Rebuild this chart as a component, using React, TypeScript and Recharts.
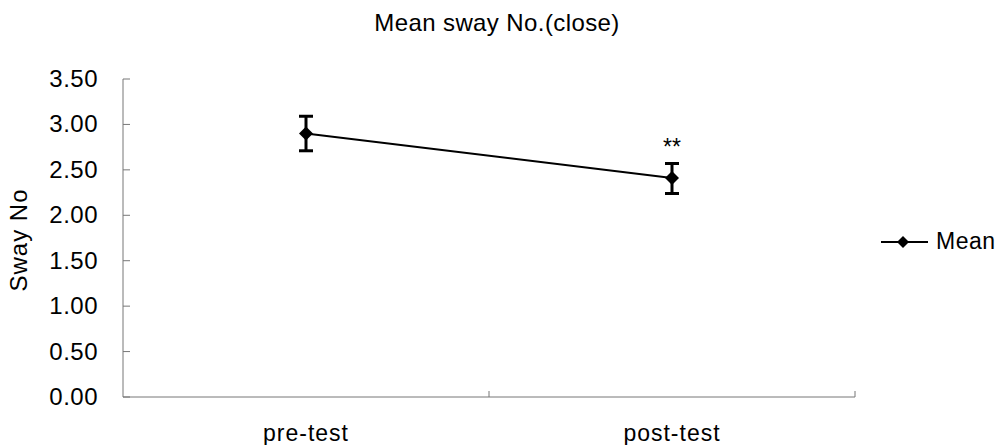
import React from 'react';
import { LineChart, Line, XAxis, YAxis, ErrorBar, LabelList, Legend } from 'recharts';

const FONT = '"Liberation Sans", Arial, Helvetica, sans-serif';

const categories = ['pre-test', 'post-test'];
const meanValues = [2.9, 2.41];
const errorMinus = [0.19, 0.17];
const errorPlus = [0.19, 0.16];
const significance = ['', '**'];
const yTicks = [0, 0.5, 1, 1.5, 2, 2.5, 3, 3.5];
const xTickPositions = [0.5, 1, 1.5, 2];
const titleText = 'Mean sway No.(close)';
const yAxisTitle = 'Sway No';
const seriesName = 'Mean';

const data = categories.map((c, i) => ({
  name: c,
  x: i + 0.5,
  mean: meanValues[i],
  err: [errorMinus[i], errorPlus[i]],
  sig: significance[i],
}));

const XTick = (props: any) => {
  const { x, y, payload } = props;
  const v = payload.value;
  if (Number.isInteger(v)) {
    return <line x1={x} y1={y} x2={x} y2={y - 6} stroke="#777" strokeWidth={1} />;
  }
  return (
    <text
      x={x}
      y={y + 44}
      textAnchor="middle"
      fontSize={23}
      letterSpacing={1}
      fill="#000"
      fontFamily={FONT}
    >
      {categories[Math.floor(v)]}
    </text>
  );
};

const YTick = (props: any) => {
  const { x, y, payload } = props;
  return (
    <g>
      <line x1={x} y1={y} x2={x + 7} y2={y} stroke="#777" strokeWidth={1} />
      <text
        x={x - 25}
        y={y + 8}
        textAnchor="end"
        fontSize={24}
        letterSpacing={0.5}
        fill="#000"
        fontFamily={FONT}
      >
        {Number(payload.value).toFixed(2)}
      </text>
    </g>
  );
};

const YLabel = (props: any) => {
  const { viewBox } = props;
  const cy = viewBox.y + viewBox.height / 2 + 2;
  const cx = 18;
  return (
    <text
      x={cx}
      y={cy}
      transform={`rotate(-90, ${cx}, ${cy})`}
      textAnchor="middle"
      dominantBaseline="central"
      fontSize={24}
      letterSpacing={1}
      fill="#000"
      fontFamily={FONT}
    >
      {yAxisTitle}
    </text>
  );
};

const Diamond = (props: any) => {
  const { cx, cy } = props;
  if (cx == null || cy == null) return null;
  const h = 7;
  return (
    <polygon
      points={`${cx},${cy - h} ${cx + h},${cy} ${cx},${cy + h} ${cx - h},${cy}`}
      fill="#000"
    />
  );
};

const SigLabel = (props: any) => {
  const { x, y, value } = props;
  if (!value) return null;
  return (
    <text x={x} y={y - 23} textAnchor="middle" fontSize={23} fill="#000" fontFamily={FONT}>
      {value}
    </text>
  );
};

const LegendContent = () => (
  <svg width={126} height={30}>
    <line x1={3} y1={14} x2={50} y2={14} stroke="#000" strokeWidth={2} />
    <polygon points="25,8 31,14 25,20 19,14" fill="#000" />
    <text x={58} y={21} fontSize={23} letterSpacing={0.5} fill="#000" fontFamily={FONT}>
      {seriesName}
    </text>
  </svg>
);

export default function App() {
  return (
    <div
      style={{
        position: 'absolute',
        left: 0,
        top: 0,
        width: 1004,
        height: 445,
        background: '#fff',
        fontFamily: FONT,
      }}
    >
      <div
        style={{
          position: 'absolute',
          left: 0,
          top: 11,
          width: 994,
          textAlign: 'center',
          fontSize: 24,
          lineHeight: '24px',
          letterSpacing: '0.4px',
          color: '#000',
        }}
      >
        {titleText}
      </div>
      <LineChart
        width={1004}
        height={445}
        data={data}
        margin={{ top: 79, right: 149, bottom: 0, left: 0 }}
      >
        <XAxis
          dataKey="x"
          type="number"
          domain={[0, 2]}
          ticks={xTickPositions}
          interval={0}
          height={48}
          tickSize={0}
          tickMargin={0}
          tickLine={false}
          axisLine={{ stroke: '#777', strokeWidth: 1 }}
          tick={<XTick />}
        />
        <YAxis
          type="number"
          domain={[0, 3.5]}
          ticks={yTicks}
          interval={0}
          width={123}
          tickSize={0}
          tickMargin={0}
          tickLine={false}
          axisLine={{ stroke: '#777', strokeWidth: 1 }}
          tick={<YTick />}
          label={<YLabel />}
        />
        <Legend
          layout="horizontal"
          align="center"
          verticalAlign="middle"
          content={<LegendContent />}
          wrapperStyle={{ left: 878, top: 228, width: 126, height: 30 }}
        />
        <Line
          dataKey="mean"
          name={seriesName}
          type="linear"
          stroke="#000"
          strokeWidth={2}
          dot={<Diamond />}
          activeDot={false}
          isAnimationActive={false}
        >
          <ErrorBar dataKey="err" direction="y" width={7} strokeWidth={3} stroke="#000" />
          <LabelList dataKey="sig" content={<SigLabel />} />
        </Line>
      </LineChart>
    </div>
  );
}
